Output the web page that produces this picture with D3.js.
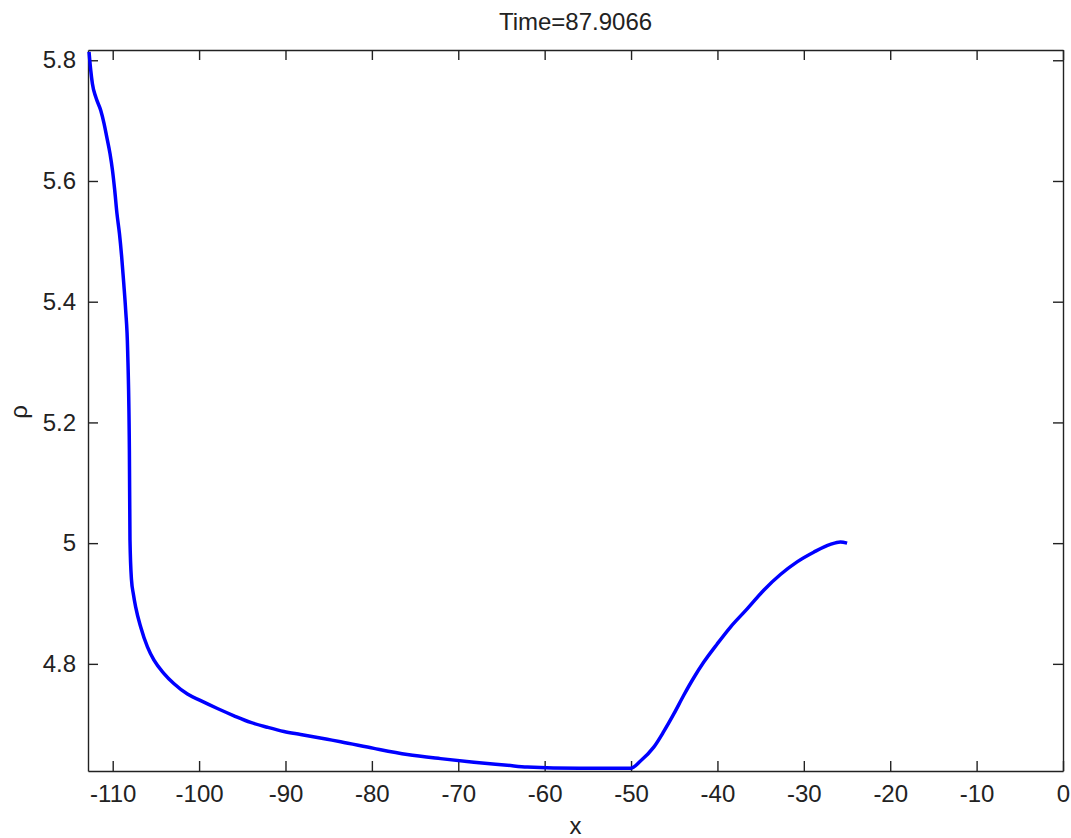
<html lang="en">
  <head>
    <title>rho profile</title>
    <script src="https://d3js.org/d3.v7.min.js"></script>
    <style>
      body { margin: 0; background: #fff; }
      #plot text { font-family: "Liberation Sans", Arial, sans-serif; fill: #222; }
      #plot .domain { stroke: #222; stroke-width: 1.4; }
      #plot .tick line { stroke: #222; stroke-width: 1.4; }
    </style>
  </head>
  <body>
    <svg id="plot" width="1071" height="838"></svg>
    <script>

      const title = 'Time=87.9066'
      const xLabel = 'x'
      const yLabel = 'ρ'

      const xTicks = [-110, -100, -90, -80, -70, -60, -50, -40, -30, -20, -10, 0]
      const yTicks = [4.8, 5, 5.2, 5.4, 5.6, 5.8]

      const xs = [-112.74, -112.54, -112.35, -111.96, -111.39, -111.0, -110.69, -110.31, -110.03, -109.77,
        -109.5, -109.22, -108.96, -108.73, -108.5, -108.27, -108.07, -108.0, -107.83, -107.6,
        -107.34, -106.76, -105.98, -105.22, -104.06, -102.9, -101.35, -99.81, -97.88, -95.96,
        -94.03, -92.1, -90.18, -88.25, -85.16, -83.62, -79.76, -75.9, -72.05, -68.19,
        -64.33, -62.02, -56, -50.06, -48.91, -47.37, -46.21, -45.05, -43.9, -42.74,
        -41.58, -40.03, -38.49, -36.56, -34.64, -32.71, -30.78, -28.86, -26.93, -25.77, -24.99]
      const rho = [5.814, 5.783, 5.761, 5.739, 5.717, 5.695, 5.673, 5.645, 5.618, 5.585,
        5.545, 5.513, 5.474, 5.432, 5.386, 5.319, 5.154, 5.005, 4.94, 4.915,
        4.894, 4.861, 4.828, 4.806, 4.784, 4.767, 4.750, 4.739, 4.726, 4.714,
        4.703, 4.695, 4.688, 4.683, 4.675, 4.671, 4.660, 4.650, 4.643, 4.637,
        4.632, 4.629, 4.627, 4.627, 4.639, 4.662, 4.688, 4.717, 4.748, 4.777,
        4.803, 4.833, 4.861, 4.891, 4.922, 4.948, 4.969, 4.985, 4.998, 5.002, 5.0]

      const svg = d3.select('#plot')
      const margin = { left: 88, right: 8, top: 50, bottom: 67 }
      const width = +svg.attr('width') - margin.left - margin.right
      const height = +svg.attr('height') - margin.top - margin.bottom

      const x = d3.scaleLinear().domain([-112.86, 0]).range([0, width])
      const y = d3.scaleLinear().domain([4.6225, 5.817]).range([height, 0])

      const g = svg.append('g').attr('transform', `translate(${margin.left},${margin.top})`)

      const fmt = d => String(d)

      g.append('g')
        .attr('transform', `translate(0,${height})`)
        .call(d3.axisBottom(x).tickValues(xTicks).tickSizeInner(-10).tickSizeOuter(0).tickPadding(14).tickFormat(fmt))
        .call(a => a.selectAll('text').style('font-size', '24px'))
      g.append('g')
        .call(d3.axisTop(x).tickValues(xTicks).tickSizeInner(-10).tickSizeOuter(0).tickFormat(''))
      g.append('g')
        .call(d3.axisLeft(y).tickValues(yTicks).tickSizeInner(-10).tickSizeOuter(0).tickPadding(12).tickFormat(fmt))
        .call(a => a.selectAll('text').style('font-size', '24px'))
      g.append('g')
        .attr('transform', `translate(${width},0)`)
        .call(d3.axisRight(y).tickValues(yTicks).tickSizeInner(-10).tickSizeOuter(0).tickFormat(''))

      const line = d3.line()
        .x((d, i) => x(xs[i]))
        .y((d, i) => y(rho[i]))
        .curve(d3.curveMonotoneX)

      g.append('path')
        .datum(xs)
        .attr('d', line)
        .attr('fill', 'none')
        .attr('stroke', '#0000ff')
        .attr('stroke-width', 3.5)
        .attr('stroke-linejoin', 'round')

      svg.append('text')
        .attr('x', margin.left + width / 2)
        .attr('y', 30)
        .attr('text-anchor', 'middle')
        .style('font-size', '24px')
        .text(title)

      svg.append('text')
        .attr('x', margin.left + width / 2)
        .attr('y', 834)
        .attr('text-anchor', 'middle')
        .style('font-size', '24px')
        .text(xLabel)

      svg.append('text')
        .attr('transform', `translate(27,412) rotate(-90)`)
        .attr('text-anchor', 'middle')
        .style('font-size', '24px')
        .text(yLabel)
    </script>
  </body>
</html>
